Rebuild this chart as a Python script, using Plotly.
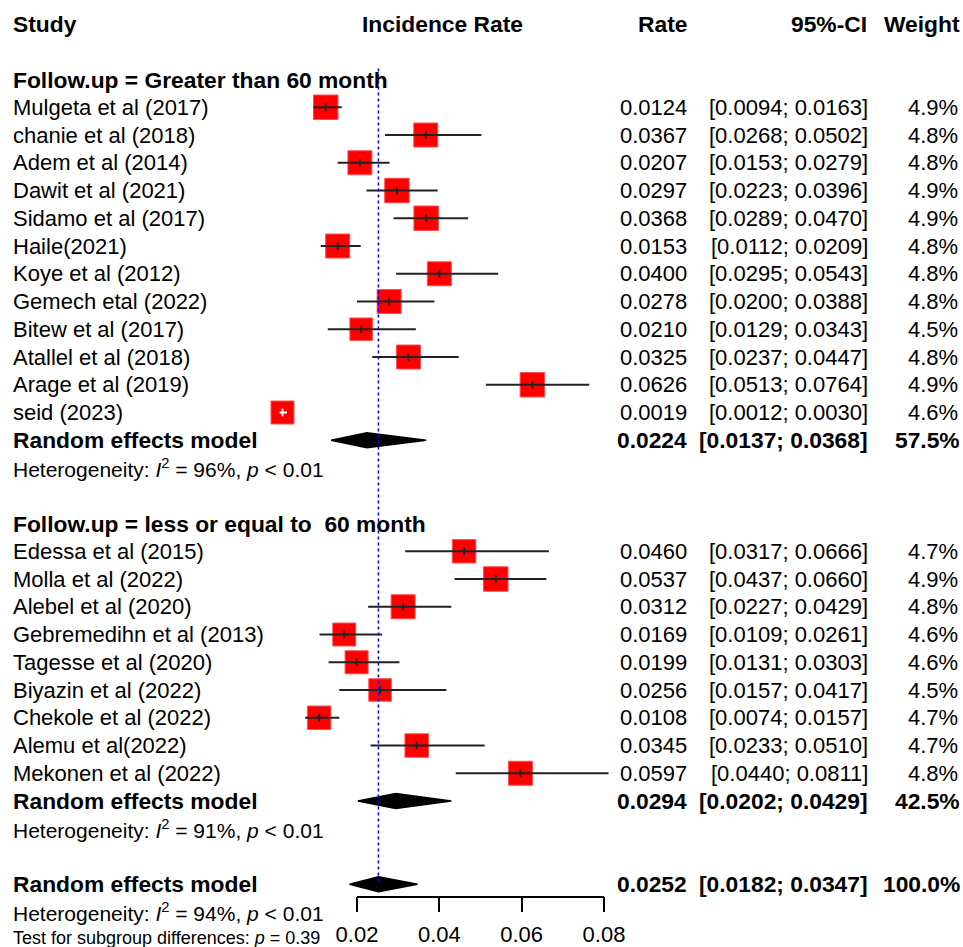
import plotly.graph_objects as go

# ---------------- data ----------------
group1_title = "Follow.up = Greater than 60 month"
studies1 = ["Mulgeta et al (2017)", "chanie et al (2018)", "Adem et al (2014)", "Dawit et al (2021)",
            "Sidamo et al (2017)", "Haile(2021)", "Koye et al (2012)", "Gemech etal (2022)",
            "Bitew et al (2017)", "Atallel et al (2018)", "Arage et al (2019)", "seid (2023)"]
rates1 = [0.0124, 0.0367, 0.0207, 0.0297, 0.0368, 0.0153, 0.0400, 0.0278, 0.0210, 0.0325, 0.0626, 0.0019]
lower1 = [0.0094, 0.0268, 0.0153, 0.0223, 0.0289, 0.0112, 0.0295, 0.0200, 0.0129, 0.0237, 0.0513, 0.0012]
upper1 = [0.0163, 0.0502, 0.0279, 0.0396, 0.0470, 0.0209, 0.0543, 0.0388, 0.0343, 0.0447, 0.0764, 0.0030]
weights1 = [4.9, 4.8, 4.8, 4.9, 4.9, 4.8, 4.8, 4.8, 4.5, 4.8, 4.9, 4.6]
re1 = (0.0224, 0.0137, 0.0368, 57.5)
het1 = (96, "&lt; 0.01")

group2_title = "Follow.up = less or equal to\u00a0 60 month"
studies2 = ["Edessa et al (2015)", "Molla et al (2022)", "Alebel et al (2020)", "Gebremedihn et al (2013)",
            "Tagesse et al (2020)", "Biyazin et al (2022)", "Chekole et al (2022)", "Alemu et al(2022)",
            "Mekonen et al (2022)"]
rates2 = [0.0460, 0.0537, 0.0312, 0.0169, 0.0199, 0.0256, 0.0108, 0.0345, 0.0597]
lower2 = [0.0317, 0.0437, 0.0227, 0.0109, 0.0131, 0.0157, 0.0074, 0.0233, 0.0440]
upper2 = [0.0666, 0.0660, 0.0429, 0.0261, 0.0303, 0.0417, 0.0157, 0.0510, 0.0811]
weights2 = [4.7, 4.9, 4.8, 4.6, 4.6, 4.5, 4.7, 4.7, 4.8]
re2 = (0.0294, 0.0202, 0.0429, 42.5)
het2 = (91, "&lt; 0.01")

re_all = (0.0252, 0.0182, 0.0347, 100.0)
het_all = (94, "&lt; 0.01")
subgroup_p = "= 0.39"

tick_vals = [0.02, 0.04, 0.06, 0.08]
tick_text = ["0.02", "0.04", "0.06", "0.08"]

# ---------------- layout geometry ----------------
W, H = 963, 947
PX0 = 274.67          # pixel of value 0
PPU = 4116.7          # pixels per unit
ROW0 = 24.0           # pixel of row 0
ROWH = 27.75          # row height in pixels
FONT = "Liberation Sans, Arial, sans-serif"

def xp(px):
    return px / W

def row_paper(k):
    return 1 - (ROW0 + ROWH * k) / H

# row indices
k_head = 0
k_g1 = 2
k_s1 = [3 + i for i in range(len(studies1))]
k_re1 = k_s1[-1] + 1
k_het1 = k_re1 + 1
k_g2 = k_het1 + 2
k_s2 = [k_g2 + 1 + i for i in range(len(studies2))]
k_re2 = k_s2[-1] + 1
k_het2 = k_re2 + 1
k_all = k_het2 + 2
k_hetall = k_all + 1
k_test = k_hetall + 1

fig = go.Figure()

all_rates = rates1 + rates2
all_lo = lower1 + lower2
all_hi = upper1 + upper2
all_w = weights1 + weights2
all_k = k_s1 + k_s2
sizes = [5.0 * w for w in all_w]

# squares
fig.add_trace(go.Scatter(
    x=all_rates, y=all_k, mode="markers",
    marker=dict(symbol="square", size=sizes, color="#ff0000", opacity=1,
                line=dict(width=1, color="#ff5050")),
    hoverinfo="skip", showlegend=False))

# CI lines & estimate ticks (black outside, white when inside square)
for inside, col in [(False, "#222222"), (True, "white")]:
    xs, ys, tx, ty = [], [], [], []
    for r, lo, hi, k, s in zip(all_rates, all_lo, all_hi, all_k, sizes):
        ins = (hi - lo) * PPU < s
        if ins != inside:
            continue
        xs += [lo, hi, None]
        ys += [k, k, None]
        tx += [r, r, None]
        ty += [k - 0.14, k + 0.14, None]
    if xs:
        fig.add_trace(go.Scatter(x=xs, y=ys, mode="lines", line=dict(color=col, width=2),
                                 hoverinfo="skip", showlegend=False))
        fig.add_trace(go.Scatter(x=tx, y=ty, mode="lines", line=dict(color=col, width=2),
                                 hoverinfo="skip", showlegend=False))

# diamonds
dh = 0.27
for (est, lo, hi, _w), k in [(re1, k_re1), (re2, k_re2), (re_all, k_all)]:
    fig.add_trace(go.Scatter(
        x=[lo, est, hi, est, lo], y=[k, k - dh, k, k + dh, k],
        mode="lines", fill="toself", fillcolor="black",
        line=dict(color="black", width=1.5), hoverinfo="skip", showlegend=False))

# reference line
fig.add_trace(go.Scatter(
    x=[re_all[0], re_all[0]], y=[1.6, k_all], mode="lines",
    line=dict(color="blue", width=1.5, dash="dot"), hoverinfo="skip", showlegend=False))

# invisible trace for the visible axis
fig.add_trace(go.Scatter(x=[0.05], y=[k_all], xaxis="x2", yaxis="y", mode="markers",
                         marker=dict(opacity=0), hoverinfo="skip", showlegend=False))

# ---------------- text ----------------
ann = []

def txt(text, xpx, k, anchor="left", bold=False, size=22):
    if bold:
        t = f"<b>{text}</b>"
        size = 22.8
    else:
        t = text
    ann.append(dict(text=t, x=xp(xpx), xref="paper", y=k, yref="y",
                    xanchor=anchor, yanchor="middle", showarrow=False,
                    font=dict(family=FONT, size=size, color="black")))

X_LEFT = 11
X_RATE = 689
X_CI = 870
X_W = 960

# headers
txt("Study", X_LEFT, k_head, bold=True)
txt("Incidence Rate", 442, k_head, anchor="center", bold=True)
txt("Rate", X_RATE, k_head, anchor="right", bold=True)
txt("95%-CI", X_CI - 1, k_head, anchor="right", bold=True)
txt("Weight", X_W + 2, k_head, anchor="right", bold=True)

def study_rows(names, rates, lo, hi, w, ks):
    for n, r, l, h, ww, k in zip(names, rates, lo, hi, w, ks):
        txt(n, X_LEFT, k)
        txt(f"{r:.4f}", X_RATE, k, anchor="right")
        txt(f"[{l:.4f}; {h:.4f}]", X_CI, k, anchor="right")
        txt(f"{ww:.1f}%", X_W, k, anchor="right")

def re_row(vals, k):
    est, lo, hi, w = vals
    txt("Random effects model", X_LEFT, k, bold=True)
    txt(f"{est:.4f}", X_RATE, k, anchor="right", bold=True)
    txt(f"[{lo:.4f}; {hi:.4f}]", X_CI, k, anchor="right", bold=True)
    txt(f"{w:.1f}%", X_W + 2, k, anchor="right", bold=True)

def het_row(h, k):
    i2, p = h
    txt(f"Heterogeneity: <i>I</i><sup>2</sup> = {i2}%, <i>p</i> {p}", X_LEFT, k, size=21)

txt(group1_title, X_LEFT, k_g1, bold=True)
study_rows(studies1, rates1, lower1, upper1, weights1, k_s1)
re_row(re1, k_re1)
het_row(het1, k_het1)

txt(group2_title, X_LEFT, k_g2, bold=True)
study_rows(studies2, rates2, lower2, upper2, weights2, k_s2)
re_row(re2, k_re2)
het_row(het2, k_het2)

re_row(re_all, k_all)
het_row(het_all, k_hetall)
txt(f"Test for subgroup differences: <i>p</i> {subgroup_p}", X_LEFT, k_test - 0.05, size=18)

# ---------------- axes ----------------
axis_row = 31.45
x2_lo = (PX0 + tick_vals[0] * PPU) / W
x2_hi = (PX0 + tick_vals[-1] * PPU) / W

fig.update_layout(
    width=W, height=H, autosize=False,
    margin=dict(l=0, r=0, t=0, b=0, pad=0, autoexpand=False),
    paper_bgcolor="white", plot_bgcolor="rgba(0,0,0,0)",
    showlegend=False,
    font=dict(family=FONT, color="black"),
    xaxis=dict(domain=[0, 1], range=[-PX0 / PPU, (W - PX0) / PPU], visible=False,
               fixedrange=True, automargin=False),
    yaxis=dict(domain=[0, 1], range=[(H - ROW0) / ROWH, -ROW0 / ROWH], visible=False,
               fixedrange=True, automargin=False),
    xaxis2=dict(domain=[x2_lo, x2_hi], range=[tick_vals[0], tick_vals[-1]],
                anchor="free", position=row_paper(axis_row), automargin=False,
                tickvals=tick_vals, ticktext=tick_text,
                ticks="outside", ticklen=15, tickwidth=1.5, tickcolor="black",
                showline=True, linecolor="black", linewidth=1.5,
                showgrid=False, zeroline=False, ticklabelstandoff=3,
                tickfont=dict(family=FONT, size=22, color="black")),
    annotations=ann,
)

fig.write_html("out.html")
